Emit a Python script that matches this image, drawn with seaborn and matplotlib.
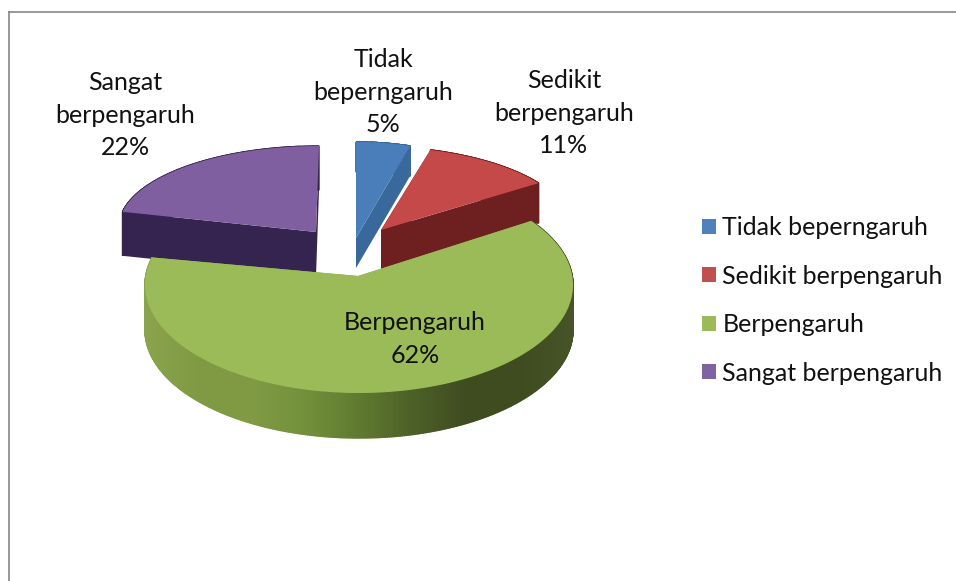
import numpy as np
import seaborn as sns
import matplotlib
matplotlib.use("Agg")
import matplotlib.pyplot as plt
from matplotlib.patches import Patch

# dados
categorias = ["Tidak beperngaruh", "Sedikit berpengaruh", "Berpengaruh", "Sangat berpengaruh"]
rotulos = ["Tidak\nbeperngaruh", "Sedikit\nberpengaruh", "Berpengaruh", "Sangat\nberpengaruh"]
valores = [5, 11, 62, 22]

# layout in pixels of the reference, one entry per slice
centro_x = [356, 368, 359, 319]
centro_y = [224, 226, 285, 227]
raio_x = [175, 202, 214, 200]
raio_y = [82, 80, 108, 81]
vertice_x = [356, 381, 358, 316]
vertice_y = [238, 230, 276, 232]
altura = [30, 40, 45, 44]
folga_graus = [0, 0, 4, 0]  # perspective widens the front slice a little
pos_rotulo = [(383, 92), (564, 113), (415, 339), (125, 115)]

cores_topo = ["#4a7ebb", "#c6494a", "#9bbb59", "#7f5f9f"]
cores_legenda = ["#4f81bd", "#c0504d", "#9bbb59", "#8064a2"]
cores_lado = [
    ["#38689c", "#38689c"],
    ["#6e1f20", "#6e1f20"],
    ["#8aa34c", "#7f9a42", "#7f9a42", "#72903b", "#5f7a30", "#4c6027", "#3e4c20", "#3e4c20", "#465428"],
    ["#35244f", "#35244f"],
]
ordem = [0, 1, 3, 2]

sns.set_theme(style="white")
plt.rcParams["font.family"] = ["Lato", "DejaVu Sans"]

fig = plt.figure(figsize=(9.56, 5.81), dpi=100)
ax = fig.add_axes([8.5 / 956, 0, 1 - 8.5 / 956, 1 - 12 / 581])
ax.set_xlim(8.5, 956)
ax.set_ylim(581, 12)
ax.set_xticks([])
ax.set_yticks([])
sns.despine(ax=ax, top=False, right=True, left=False, bottom=True)
for lado in ["top", "left"]:
    ax.spines[lado].set_color("#868686")
    ax.spines[lado].set_linewidth(1.2)

fracoes = np.cumsum([0] + valores) / sum(valores) * 2 * np.pi

for i in ordem:
    folga = np.radians(folga_graus[i])
    ang = np.linspace(fracoes[i] - folga, fracoes[i + 1] + folga, 400)
    xs = centro_x[i] + raio_x[i] * np.sin(ang)
    ys = centro_y[i] - raio_y[i] * np.cos(ang)
    vx, vy, h = vertice_x[i], vertice_y[i], altura[i]
    paleta = sns.blend_palette(cores_lado[i], 256)
    base = cores_lado[i][0]

    # faces radiais
    for k in [0, -1]:
        ax.fill([vx, xs[k], xs[k], vx], [vy, ys[k], ys[k] + h, vy + h], color=base, lw=0)

    # parede externa com degrade
    for k in range(len(ang) - 1):
        t = (xs[k] - xs.min()) / (xs.max() - xs.min())
        cor = paleta[int(t * 255)]
        ax.fill([xs[k], xs[k + 1], xs[k + 1], xs[k]],
                [ys[k], ys[k + 1], ys[k + 1] + h, ys[k] + h],
                color=cor, lw=1.0)

    # topo
    ax.fill(np.r_[vx, xs], np.r_[vy, ys], color=cores_topo[i], lw=0)

    ax.text(pos_rotulo[i][0], pos_rotulo[i][1], f"{rotulos[i]}\n{valores[i]}%",
            ha="center", va="center", fontsize=18, color="#111111", linespacing=1.5, zorder=5)

alcas = [Patch(facecolor=c, edgecolor="none") for c in cores_legenda]
ax.legend(alcas, categorias, loc="upper left", bbox_to_anchor=(702, 216),
          bbox_transform=ax.transData, frameon=False, fontsize=18,
          handlelength=0.56, handleheight=0.56, handletextpad=0.26,
          labelspacing=1.02, labelcolor="#111111", borderpad=0, borderaxespad=0)

plt.savefig("out.png", dpi=100)
plt.close()
